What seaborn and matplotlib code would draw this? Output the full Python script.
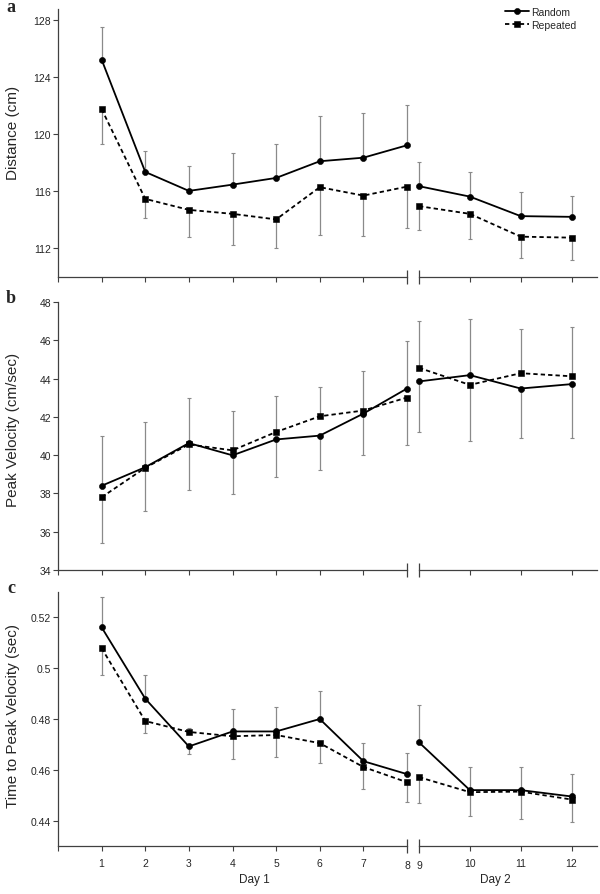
import pandas as pd
import seaborn as sns
import matplotlib.pyplot as plt

trials = list(range(1, 13))
groups = ["Random", "Repeated"]

dist_random = [125.25, 117.37, 116.04, 116.48, 116.95, 118.12, 118.37, 119.24, 116.37, 115.64, 114.27, 114.22]
dist_random_err = [2.28, 1.49, 1.73, 2.24, 2.36, 3.19, 3.10, 2.86, 1.70, 1.75, 1.68, 1.49]
dist_repeated = [121.78, 115.48, 114.71, 114.43, 114.04, 116.30, 115.71, 116.34, 114.97, 114.43, 112.83, 112.76]
dist_repeated_err = [2.45, 1.37, 1.88, 2.21, 2.03, 3.36, 2.81, 2.89, 1.68, 1.77, 1.47, 1.56]

vel_random = [38.40, 39.37, 40.63, 39.99, 40.82, 41.02, 42.17, 43.48, 43.85, 44.18, 43.48, 43.71]
vel_random_err = [2.60, 2.35, 2.37, 2.01, 1.97, 1.78, 2.17, 2.50, 2.62, 2.95, 2.58, 2.81]
vel_repeated = [37.80, 39.34, 40.56, 40.25, 41.21, 42.03, 42.33, 43.01, 44.56, 43.67, 44.28, 44.12]
vel_repeated_err = [2.37, 2.27, 2.36, 2.04, 1.90, 1.52, 2.07, 2.46, 2.46, 2.95, 2.32, 2.57]

tpv_random = [0.5161, 0.4880, 0.4692, 0.4751, 0.4751, 0.4800, 0.4634, 0.4583, 0.4708, 0.4520, 0.4520, 0.4495]
tpv_random_err = [0.0121, 0.0092, 0.0028, 0.0087, 0.0095, 0.0109, 0.0073, 0.0085, 0.0149, 0.0092, 0.0091, 0.0087]
tpv_repeated = [0.5079, 0.4792, 0.4749, 0.4732, 0.4737, 0.4705, 0.4611, 0.4551, 0.4571, 0.4512, 0.4514, 0.4483]
tpv_repeated_err = [0.0104, 0.0049, 0.0017, 0.0089, 0.0086, 0.0080, 0.0087, 0.0076, 0.0100, 0.0095, 0.0106, 0.0090]

dist_ticks = [112, 116, 120, 124, 128]
vel_ticks = [34, 36, 38, 40, 42, 44, 46, 48]
tpv_ticks = [0.44, 0.46, 0.48, 0.50, 0.52]
tpv_tick_labels = ["0.44", "0.46", "0.48", "0.5", "0.52"]

day1_ticks = [0, 1, 2, 3, 4, 5, 6, 7]
day1_labels = ["", "1", "2", "3", "4", "5", "6", "7"]
day2_ticks = [10, 11, 12]
day2_labels = ["10", "11", "12"]

sns.set_style("ticks")
plt.rcParams["font.family"] = ["Liberation Sans", "DejaVu Sans"]

W, H = 600, 895
fig = plt.figure(figsize=(W / 100, H / 100), dpi=100)

axis_col = "#404040"
err_col = "#8a8a8a"

panels = [
    ("a", "Distance (cm)", dist_random, dist_random_err, dist_repeated, dist_repeated_err,
     (110, 128.8), dist_ticks, [str(t) for t in dist_ticks], 10, 278, 0.54, 12),
    ("b", "Peak Velocity (cm/sec)", vel_random, vel_random_err, vel_repeated, vel_repeated_err,
     (34, 48), vel_ticks, [str(t) for t in vel_ticks], 303, 571, 0.526, 303),
    ("c", "Time to Peak Velocity (sec)", tpv_random, tpv_random_err, tpv_repeated, tpv_repeated_err,
     (0.43, 0.53), tpv_ticks, tpv_tick_labels, 593, 847, 0.516, 593),
]

legend_handles = None
for i, (letter, ylab, rnd, rnd_err, rep, rep_err, ylim, yticks, ylabels, top, bot, ylab_y, letter_y) in enumerate(panels):
    df = pd.DataFrame({
        "trial": trials * 2,
        "value": rnd + rep,
        "err": rnd_err + rep_err,
        "group": ["Random"] * 12 + ["Repeated"] * 12,
    })
    # higher series gets the error bar upward, lower one downward
    up = [r >= p for r, p in zip(rnd, rep)] + [p > r for r, p in zip(rnd, rep)]
    df["lo"] = [0 if u else e for u, e in zip(up, df["err"])]
    df["hi"] = [e if u else 0 for u, e in zip(up, df["err"])]

    b = (H - bot) / H
    h = (bot - top) / H
    ax_l = fig.add_axes([58 / W, b, 349 / W, h])
    ax_r = fig.add_axes([419 / W, b, 178 / W, h])

    for ax, lo, hi in [(ax_l, 1, 8), (ax_r, 9, 12)]:
        sub = df[(df["trial"] >= lo) & (df["trial"] <= hi)]
        sns.lineplot(data=sub, x="trial", y="value", style="group", style_order=groups,
                     markers={"Random": "o", "Repeated": "s"},
                     dashes={"Random": "", "Repeated": (2.4, 1.7)},
                     color="black", linewidth=1.3, markersize=4.4,
                     markeredgecolor="black", markeredgewidth=0.4,
                     errorbar=None, legend=False, ax=ax, zorder=3, clip_on=False)
        eb = ax.errorbar(sub["trial"], sub["value"], yerr=[sub["lo"], sub["hi"]], fmt="none",
                         ecolor=err_col, elinewidth=0.9, capsize=1.5, capthick=0.8, zorder=1)
        for art in eb.get_children():
            art.set_clip_on(False)
        ax.set_ylim(*ylim)
        ax.set_xlabel("")
        ax.set_ylabel("")
        for s in ax.spines.values():
            s.set_color(axis_col)
            s.set_linewidth(0.9)
        ax.spines["top"].set_visible(False)
        ax.spines["right"].set_visible(False)
        ax.tick_params(axis="x", which="major", direction="out", length=3.5, width=0.8,
                       color=axis_col, labelsize=7.5, pad=5)
        ax.tick_params(axis="x", which="minor", direction="inout", length=9.5, width=0.9,
                       color=axis_col, labelsize=7.5, pad=5)

    if i == 0:
        legend_handles = ax_l.lines[:2]

    ax_l.set_xlim(0, 8)
    ax_l.set_xticks(day1_ticks)
    ax_l.set_xticklabels(day1_labels)
    ax_l.set_xticks([8], minor=True)
    ax_l.set_xticklabels(["8"], minor=True)
    ax_l.set_yticks(yticks)
    ax_l.set_yticklabels(ylabels)
    ax_l.tick_params(axis="y", direction="out", length=3.5, width=0.8, color=axis_col,
                     labelsize=7.5, pad=1.5)
    ax_l.set_ylabel(ylab, fontsize=11)
    ax_l.yaxis.set_label_coords(-0.11, ylab_y)

    ax_r.set_xlim(9, 12.5)
    ax_r.set_xticks(day2_ticks)
    ax_r.set_xticklabels(day2_labels)
    ax_r.set_xticks([9], minor=True)
    ax_r.set_xticklabels(["9"], minor=True)
    ax_r.spines["left"].set_visible(False)
    ax_r.tick_params(axis="y", left=False, labelleft=False)

    if i < 2:
        for ax in (ax_l, ax_r):
            ax.tick_params(axis="x", which="both", labelbottom=False)
    else:
        ax_l.text(4.5, -0.128, "Day 1", transform=ax_l.get_xaxis_transform(),
                  ha="center", va="center", fontsize=8.5)
        ax_r.text(10.5, -0.128, "Day 2", transform=ax_r.get_xaxis_transform(),
                  ha="center", va="center", fontsize=8.5)

    fig.text(11 / W, 1 - letter_y / H, letter, family="Liberation Serif", weight="bold",
             fontsize=13, ha="center", va="baseline")

fig.legend(legend_handles, groups, loc="upper left", bbox_to_anchor=(505 / W, 1 - 8 / H),
           frameon=False, fontsize=7.5, handlelength=2.3, handletextpad=0.2,
           labelspacing=0.25, borderpad=0, borderaxespad=0)

fig.savefig("out.png", dpi=100)
